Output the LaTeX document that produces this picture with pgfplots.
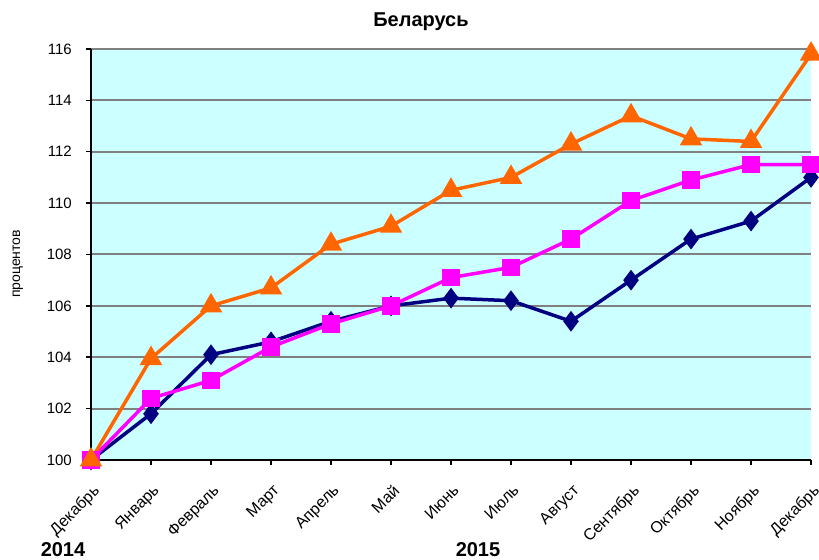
\documentclass[border=0pt]{standalone}
\usepackage{pgfplots}
\pgfplotsset{compat=1.18}
\usepackage{fontspec}
\setmainfont{Liberation Sans}
\definecolor{bgc}{RGB}{204,255,255}
\definecolor{navyc}{RGB}{0,0,128}
\definecolor{magc}{RGB}{255,0,255}
\definecolor{orc}{RGB}{255,102,0}
\definecolor{gridc}{RGB}{128,128,128}
\begin{document}
\begin{tikzpicture}[x=1bp,y=1bp]
\useasboundingbox (0,0) rectangle (819,560);
\begin{axis}[at={(91bp,100bp)}, anchor=south west, scale only axis,
 width=720bp, height=411bp,
 xmin=0, xmax=12, ymin=100, ymax=116,
 ytick={100,102,...,116}, xtick={0,...,12},
 xticklabels={Декабрь,Январь,Февраль,Март,Апрель,Май,Июнь,Июль,Август,Сентябрь,Октябрь,Ноябрь,Декабрь},
 axis x line*=bottom, axis y line*=left,
 axis line style={line width=2.5bp, black},
 tick align=outside, major tick length=5bp,
 tick style={line width=1.5bp, black},
 ymajorgrids, grid style={gridc, line width=2bp},
 axis background/.style={fill=bgc},
 /pgf/number format/assume math mode=true,
 tick label style={font=\fontsize{15bp}{18bp}\selectfont},
 yticklabel style={inner sep=2bp, xshift=-12bp},
 xticklabel style={font=\fontsize{16bp}{19bp}\selectfont, yshift=-17bp, xshift=1bp, rotate=45, anchor=north east, inner sep=1bp},
 clip=false,
]
\addplot[navyc, line width=3.5bp, mark=diamond*, mark size=7.5bp, mark options={solid}]
 coordinates {(0,100) (1,101.8) (2,104.1) (3,104.6) (4,105.4) (5,106.0) (6,106.3) (7,106.2) (8,105.4) (9,107.0) (10,108.6) (11,109.3) (12,111.0)};
\addplot[magc, line width=3.5bp, mark=square*, mark size=7bp, mark options={solid}]
 coordinates {(0,100) (1,102.4) (2,103.1) (3,104.4) (4,105.3) (5,106.0) (6,107.1) (7,107.5) (8,108.6) (9,110.1) (10,110.9) (11,111.5) (12,111.5)};
\addplot[orc, line width=3.5bp, mark=triangle*, mark size=9.5bp, mark options={solid}]
 coordinates {(0,100) (1,103.95) (2,106.0) (3,106.7) (4,108.4) (5,109.1) (6,110.5) (7,111.0) (8,112.3) (9,113.4) (10,112.5) (11,112.4) (12,115.8)};
\end{axis}
\node[anchor=base, font=\bfseries\fontsize{20bp}{24bp}\selectfont] at (421,533) {Беларусь};
\node[anchor=base, rotate=90, font=\fontsize{14bp}{17bp}\selectfont] at (20,296) {процентов};
\node[anchor=base, font=\bfseries\fontsize{20bp}{24bp}\selectfont] at (63,3) {2014};
\node[anchor=base, font=\bfseries\fontsize{20bp}{24bp}\selectfont] at (478,3) {2015};
\end{tikzpicture}
\end{document}
